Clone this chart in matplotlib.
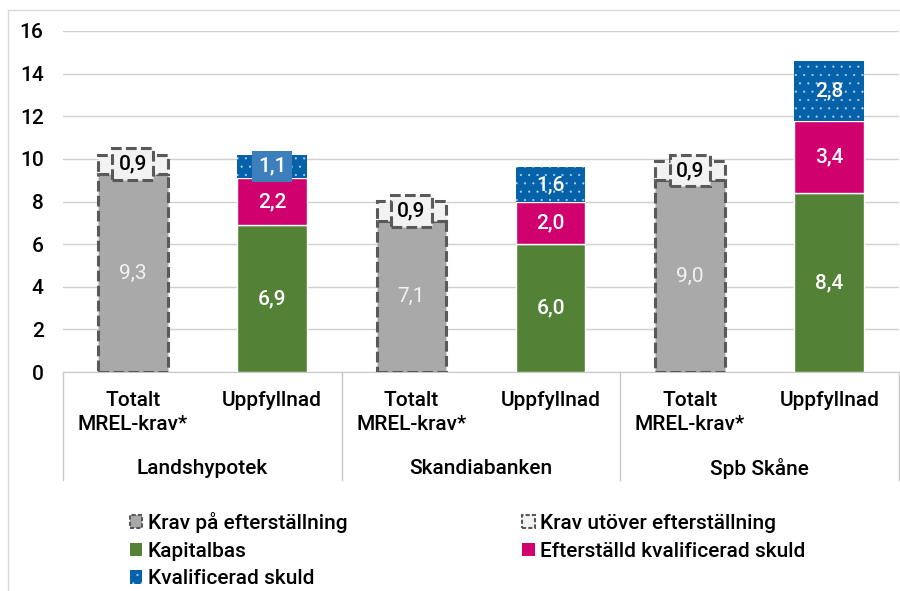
import matplotlib.pyplot as plt
import numpy as np
from matplotlib.patches import Patch
from matplotlib.lines import Line2D

plt.rcParams['font.family'] = ['Roboto', 'DejaVu Sans']
plt.rcParams['hatch.linewidth'] = 0.3

# data
banks = ["Landshypotek", "Skandiabanken", "Spb Skåne"]
cat_labels = ["Totalt\nMREL-krav*", "Uppfyllnad"]
krav_eft = [9.3, 7.1, 9.0]        # Krav på efterställning
krav_utover = [0.9, 0.9, 0.9]     # Krav utöver efterställning
kapitalbas = [6.9, 6.0, 8.4]
eft_skuld = [2.2, 2.0, 3.4]       # Efterställd kvalificerad skuld
kval_skuld = [1.1, 1.6, 2.8]      # Kvalificerad skuld

def fmt(v):
    return f"{v:.1f}".replace(".", ",")

c_gray = "#a9a9a9"
c_light = "#f2f2f2"
c_dash = "#595959"
c_green = "#538135"
c_pink = "#d0006f"
c_blue = "#0662a8"
dash = (0, (3.5, 1.4))
fs = 15
fw = "medium"

fig = plt.figure(figsize=(9, 5.91), dpi=100)
ax = fig.add_axes([63 / 900, 1 - 372 / 591, 836 / 900, 341 / 591])

x_tot = np.arange(len(banks)) * 2
x_upp = x_tot + 1
w = 0.5

# required bars
ax.bar(x_tot, krav_eft, w, color=c_gray, edgecolor=c_dash, linewidth=2.2, linestyle=dash, zorder=3)
ax.bar(x_tot, krav_utover, w, bottom=krav_eft, color=c_light, edgecolor=c_dash,
       linewidth=2.2, linestyle=dash, zorder=3)

# fulfilled bars
ax.bar(x_upp, kapitalbas, w, color=c_green, edgecolor="white", linewidth=1, zorder=3)
b2 = np.array(kapitalbas)
ax.bar(x_upp, eft_skuld, w, bottom=b2, color=c_pink, edgecolor="white", linewidth=1, zorder=3)
b3 = b2 + np.array(eft_skuld)
ax.bar(x_upp, kval_skuld, w, bottom=b3, color=c_blue, edgecolor="#b8d3ec", linewidth=0,
       hatch="..", zorder=3)

# labels
for i in range(len(banks)):
    ax.text(x_tot[i], krav_eft[i] / 2, fmt(krav_eft[i]), ha="center", va="center",
            color="#f2f2f2", fontsize=fs, zorder=5)
    ax.text(x_tot[i], krav_eft[i] + krav_utover[i] / 2, fmt(krav_utover[i]), ha="center",
            va="center", color="black", fontsize=fs, fontweight=fw, zorder=5,
            bbox=dict(boxstyle="square,pad=0.3", fc=c_light, ec=c_dash, lw=2.2, ls=dash))
    ax.text(x_upp[i], kapitalbas[i] / 2, fmt(kapitalbas[i]), ha="center", va="center",
            color="white", fontsize=fs, fontweight=fw, zorder=5)
    ax.text(x_upp[i], b2[i] + eft_skuld[i] / 2, fmt(eft_skuld[i]), ha="center", va="center",
            color="white", fontsize=fs, fontweight=fw, zorder=5)
    bb = dict(boxstyle="square,pad=0.3", fc="#3d7fbc", ec="none") if i == 0 else None
    ax.text(x_upp[i], b3[i] + kval_skuld[i] / 2, fmt(kval_skuld[i]), ha="center", va="center",
            color="white", fontsize=fs, fontweight=fw, zorder=5, bbox=bb)

ax.set_xlim(-0.5, 5.5)
ax.set_ylim(0, 16)
ax.set_yticks(np.arange(0, 17, 2))
ax.tick_params(axis="y", length=0, labelsize=fs, pad=14)
for lab in ax.get_yticklabels():
    lab.set_fontweight(fw)
ax.set_xticks([])
ax.grid(axis="y", color="#d0d0d0", linewidth=1, zorder=0)
for s in ["left", "right", "top"]:
    ax.spines[s].set_visible(False)
ax.spines["bottom"].set_color("#c8c8c8")

# category labels and group separators
trans = ax.get_xaxis_transform()
for i, bank in enumerate(banks):
    ax.text(x_tot[i], -0.055, cat_labels[0], transform=trans, ha="center", va="top",
            fontsize=fs, fontweight=fw, linespacing=1.35)
    ax.text(x_upp[i], -0.055, cat_labels[1], transform=trans, ha="center", va="top",
            fontsize=fs, fontweight=fw)
    ax.text(x_tot[i] + 0.5, -0.283, bank, transform=trans, ha="center", va="center",
            fontsize=fs, fontweight=fw)
for xs in [-0.5, 1.5, 3.5, 5.5]:
    ax.plot([xs, xs], [0, -0.317], transform=trans, color="#c8c8c8", lw=1, clip_on=False)

# legend
handles = [
    Patch(facecolor=c_gray, edgecolor=c_dash, linestyle=(0, (2, 1)), linewidth=1.5,
          label="Krav på efterställning"),
    Patch(facecolor=c_green, edgecolor="none", label="Kapitalbas"),
    Patch(facecolor=c_blue, edgecolor="#b8d3ec", hatch="..", linewidth=0, label="Kvalificerad skuld"),
    Patch(facecolor=c_light, edgecolor=c_dash, linestyle=(0, (2, 1)), linewidth=1.5,
          label="Krav utöver efterställning"),
    Patch(facecolor=c_pink, edgecolor="none", label="Efterställd kvalificerad skuld"),
]
fig.legend(handles=handles, ncol=2, loc="upper left", bbox_to_anchor=(0.135, 0.148),
           frameon=False, prop={"size": fs, "weight": fw}, handlelength=0.6, handleheight=0.6,
           handletextpad=0.25, columnspacing=8.4, labelspacing=0.42, borderaxespad=0)

# outer frame
fig.add_artist(Line2D([8 / 900, 1], [1 - 10 / 591] * 2, color="#d9d9d9", lw=1))
fig.add_artist(Line2D([8 / 900] * 2, [0, 1 - 10 / 591], color="#d9d9d9", lw=1))

fig.savefig("out.png", dpi=100)
